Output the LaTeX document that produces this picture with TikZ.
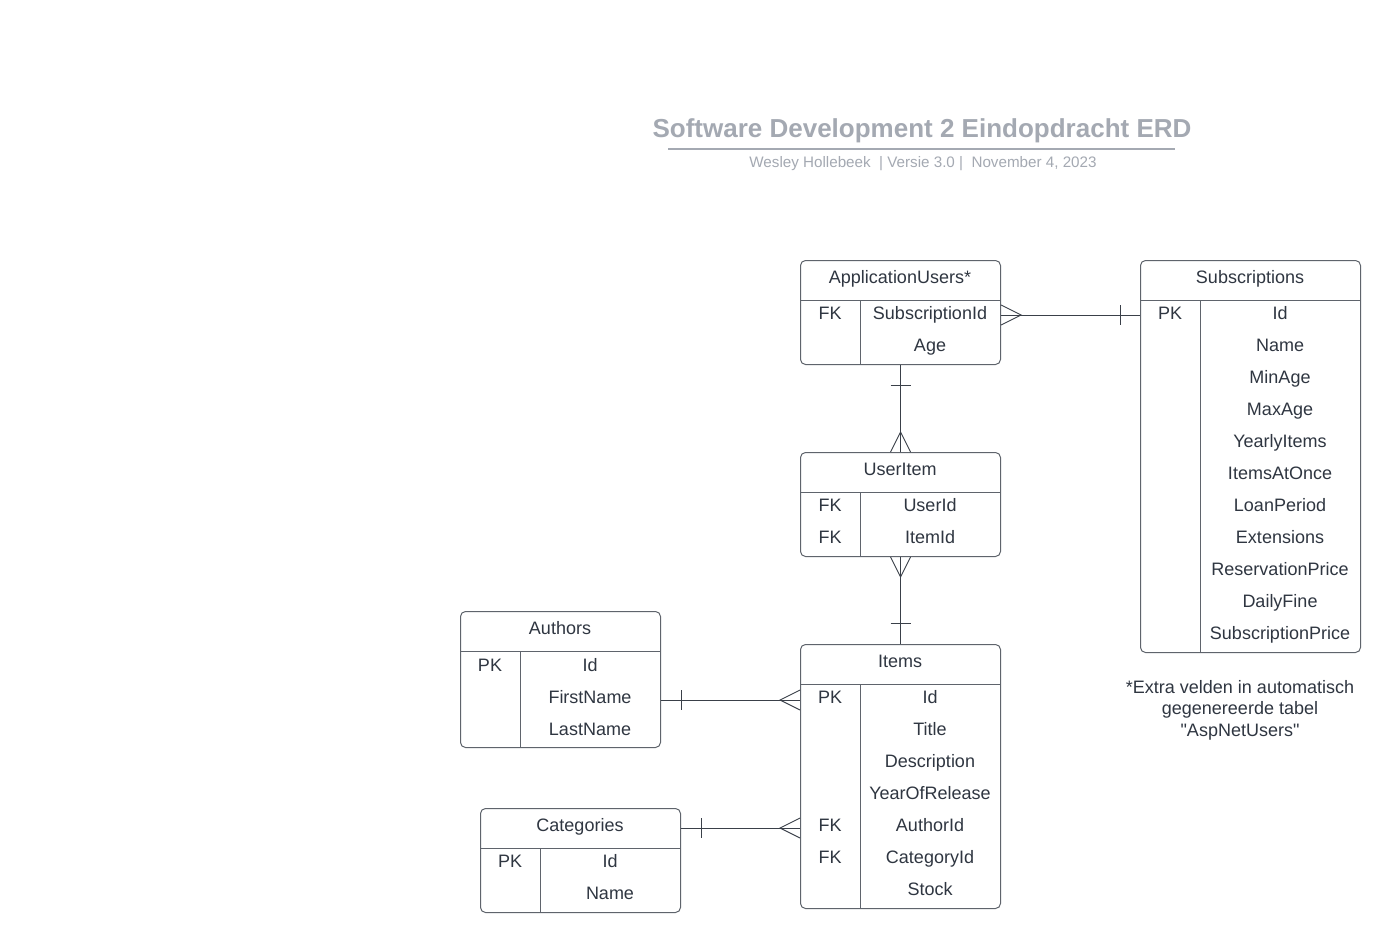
\documentclass[tikz,border=0pt]{standalone}
\usepackage{fontspec}
\setmainfont{Liberation Sans}
\newfontfamily\noqfont{Liberation Sans}[Ligatures=TeXOff]
\usetikzlibrary{calc}
\definecolor{txtc}{HTML}{2F3641}
\definecolor{boxc}{HTML}{5F646C}
\definecolor{linec}{HTML}{3A4049}
\definecolor{titc}{HTML}{A4A9B2}
\tikzset{
  entbox/.style={draw=boxc, line width=1pt, rounded corners=5pt, fill=white, inner sep=0pt},
  entline/.style={draw=boxc, line width=1pt},
  txt/.style={anchor=base, inner sep=0pt, text=txtc, font=\fontsize{18}{20}\selectfont},
  conn/.style={draw=linec, line width=0.9pt},
}
% entity: #1 name, #2 left, #3 top, #4 width, #5 rows, #6 title
\newcommand\ent[6]{%
  \node[entbox, minimum width=#4pt, minimum height={40pt+32pt*#5}, anchor=north west] (#1) at (#2,#3) {};
  \node[txt] (#1-t) at (#2+#4/2,#3+23.5) {#6};
  \draw[entline] (#2,#3+40) -- (#2+#4,#3+40);
  \draw[entline] (#2+60,#3+40) -- (#2+60,#3+40+32*#5);
}
% field: #1 node name, #2 entity left, #3 width, #4 row center y, #5 key, #6 field
\newcommand\fld[6]{%
  \node[txt] (#1-k) at (#2+30,#4+6.5) {#5};
  \node[txt] (#1) at ({#2+60+(#3-60)/2},#4+6.5) {#6};
}
\begin{document}
\begin{tikzpicture}[x=1pt,y=-1pt]
\useasboundingbox[fill=white] (0,0) rectangle (1400,952);

% title
\node[anchor=base, inner sep=0pt, text=titc, font=\fontsize{26}{30}\selectfont\bfseries] (title) at (922,138) {Software Development 2 Eindopdracht ERD};
\draw[titc, line width=2pt] (668,149) coordinate (ul1) -- (1175,149) coordinate (ul2);
\node[anchor=base, inner sep=0pt, text=titc, font=\fontsize{15.2}{17}\selectfont] (sub) at (923,168) {Wesley Hollebeek\ \ | Versie 3.0 |\ \ November 4, 2023};

% ApplicationUsers
\ent{au}{800}{260}{200}{2}{ApplicationUsers*}
\fld{au1}{800}{200}{313}{FK}{SubscriptionId}
\fld{au2}{800}{200}{345}{}{Age}

% Subscriptions
\ent{su}{1140}{260}{220}{11}{Subscriptions}
\fld{su1}{1140}{220}{313}{PK}{Id}
\fld{su2}{1140}{220}{345}{}{Name}
\fld{su3}{1140}{220}{377}{}{MinAge}
\fld{su4}{1140}{220}{409}{}{MaxAge}
\fld{su5}{1140}{220}{441}{}{YearlyItems}
\fld{su6}{1140}{220}{473}{}{ItemsAtOnce}
\fld{su7}{1140}{220}{505}{}{LoanPeriod}
\fld{su8}{1140}{220}{537}{}{Extensions}
\fld{su9}{1140}{220}{569}{}{ReservationPrice}
\fld{su10}{1140}{220}{601}{}{DailyFine}
\fld{su11}{1140}{220}{633}{}{SubscriptionPrice}

% UserItem
\ent{ui}{800}{452}{200}{2}{UserItem}
\fld{ui1}{800}{200}{505}{FK}{UserId}
\fld{ui2}{800}{200}{537}{FK}{ItemId}

% Items
\ent{it}{800}{644}{200}{7}{Items}
\fld{it1}{800}{200}{697}{PK}{Id}
\fld{it2}{800}{200}{729}{}{Title}
\fld{it3}{800}{200}{761}{}{Description}
\fld{it4}{800}{200}{793}{}{YearOfRelease}
\fld{it5}{800}{200}{825}{FK}{AuthorId}
\fld{it6}{800}{200}{857}{FK}{CategoryId}
\fld{it7}{800}{200}{889}{}{Stock}

% Authors
\ent{au2x}{460}{611}{200}{3}{Authors}
\fld{a1}{460}{200}{665}{PK}{Id}
\fld{a2}{460}{200}{697}{}{FirstName}
\fld{a3}{460}{200}{729}{}{LastName}

% Categories
\ent{ca}{480}{808}{200}{2}{Categories}
\fld{c1}{480}{200}{861}{PK}{Id}
\fld{c2}{480}{200}{893}{}{Name}

% note
\node[txt, align=center, anchor=north, font=\noqfont\fontsize{18}{21.5}\selectfont] (note) at (1240,680) {*Extra velden in automatisch\\gegenereerde tabel\\"AspNetUsers"};

% connectors
% ApplicationUsers -- Subscriptions (many to one)
\draw[conn] ($(au.north east)+(0,55)$) -- ($(su.north west)+(0,55)$);
\draw[conn] ($(au.north east)+(0,45)$) -- ($(au.north east)+(20,55)$) -- ($(au.north east)+(0,65)$);
\draw[conn] ($(su.north west)+(-20,45)$) -- ($(su.north west)+(-20,65)$);

% ApplicationUsers -- UserItem
\draw[conn] (au.south) -- (ui.north);
\draw[conn] ($(au.south)+(-10,20)$) -- ($(au.south)+(10,20)$);
\draw[conn] ($(ui.north)+(-10,0)$) -- ($(ui.north)+(0,-20)$) -- ($(ui.north)+(10,0)$);

% UserItem -- Items
\draw[conn] (ui.south) -- (it.north);
\draw[conn] ($(ui.south)+(-10,0)$) -- ($(ui.south)+(0,20)$) -- ($(ui.south)+(10,0)$);
\draw[conn] ($(it.north)+(-10,-21)$) -- ($(it.north)+(10,-21)$);

% Authors -- Items
\draw[conn] ($(au2x.north east)+(0,89)$) -- ($(it.north west)+(0,56)$);
\draw[conn] ($(au2x.north east)+(20,79)$) -- ($(au2x.north east)+(20,99)$);
\draw[conn] ($(it.north west)+(0,46)$) -- ($(it.north west)+(-20,56)$) -- ($(it.north west)+(0,66)$);

% Categories -- Items
\draw[conn] ($(ca.north east)+(0,20)$) -- ($(it.north west)+(0,184)$);
\draw[conn] ($(ca.north east)+(20,10)$) -- ($(ca.north east)+(20,30)$);
\draw[conn] ($(it.north west)+(0,174)$) -- ($(it.north west)+(-20,184)$) -- ($(it.north west)+(0,194)$);
\end{tikzpicture}
\end{document}
